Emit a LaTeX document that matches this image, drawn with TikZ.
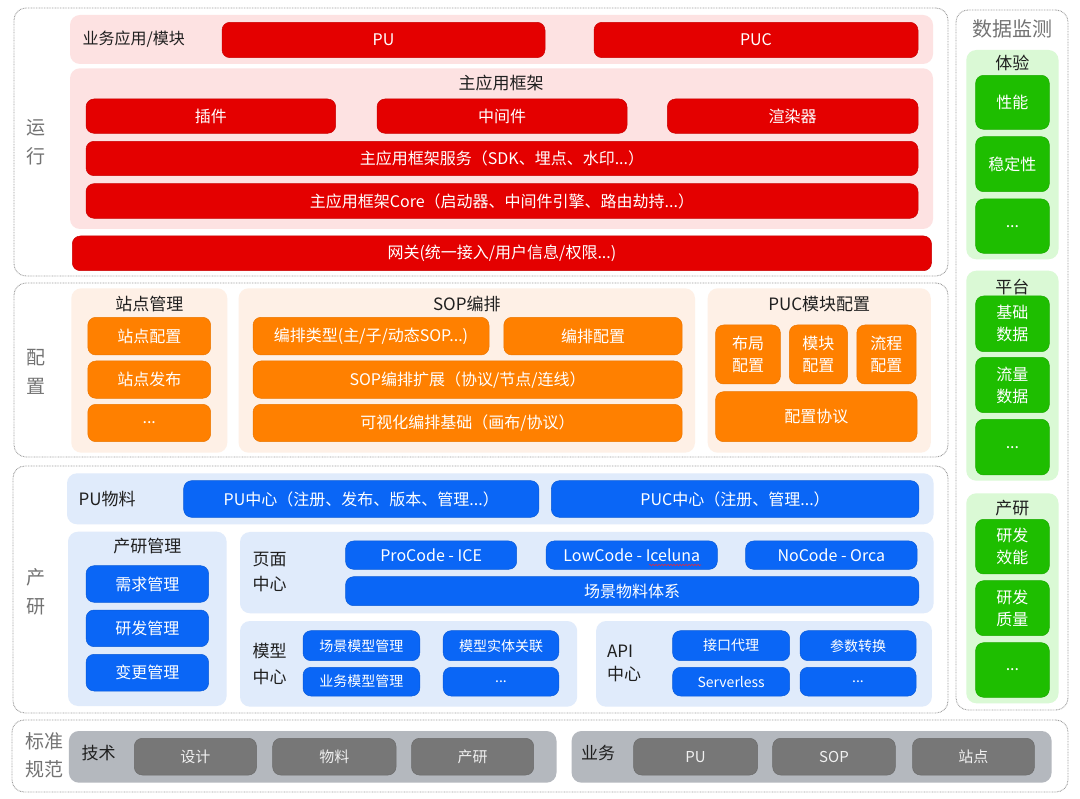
\documentclass[tikz,border=0pt]{standalone}
\usepackage{fontspec}
\usetikzlibrary{decorations.pathmorphing}
\setmainfont{Noto Sans CJK SC}
\definecolor{cred}{RGB}{228,0,0}
\definecolor{cpink}{RGB}{253,226,226}
\definecolor{corg}{RGB}{255,128,0}
\definecolor{clorg}{RGB}{254,240,230}
\definecolor{cblue}{RGB}{10,102,246}
\definecolor{clblue}{RGB}{224,235,251}
\definecolor{cgreen}{RGB}{30,190,0}
\definecolor{clgreen}{RGB}{218,249,213}
\definecolor{cgband}{RGB}{180,184,190}
\definecolor{cgbox}{RGB}{119,119,119}
\definecolor{csquig}{RGB}{230,40,60}
\newcommand\myfs[2]{\fontsize{#1}{#2}\selectfont}
\newcommand\mybox[7]{\node[#1,minimum width={(#5)-(#3)},minimum height={(#6)-(#4)}] (#2) at ({((#3)+(#5))/2},{((#4)+(#6))/2}) {#7};}
\tikzset{
  base/.style={rectangle, inner sep=0pt, outer sep=0pt, align=center},
  dotb/.style={base, draw=black!38, dash pattern=on 0.8pt off 0.8pt, line width=0.9pt, rounded corners=12pt},
  band/.style={base, rounded corners=10pt},
  pinkband/.style={band, fill=cpink},
  orgband/.style={band, fill=clorg},
  blueband/.style={band, fill=clblue},
  greenband/.style={band, fill=clgreen},
  grayband/.style={band, fill=cgband},
  cbox/.style={base, rounded corners=8pt, text=white, font=\myfs{16}{22}, line width=0.5pt},
  redb/.style={cbox, fill=cred, draw=cred!88!black},
  orgb/.style={cbox, fill=corg, draw=corg!92!black},
  blueb/.style={cbox, fill=cblue, draw=cblue!88!black},
  blues/.style={blueb, font=\myfs{14}{20}},
  greenb/.style={cbox, fill=cgreen, draw=cgreen!90!black},
  grayb/.style={cbox, fill=cgbox, draw=cgbox!90!black, text=white!94!black, font=\myfs{15}{20}},
  side/.style={base, text=black!55, font=\myfs{19}{29}},
  ttl/.style={base, text=black!88, font=\myfs{17}{22}},
  lbl/.style={base, text=black!88, font=\myfs{17}{25}, anchor=west, align=left},
  squig/.style={draw=csquig, line width=0.6pt, decorate, decoration={snake, amplitude=0.7pt, segment length=3pt}},
}
\begin{document}
\begin{tikzpicture}[x=1pt,y=-1pt]
\useasboundingbox[fill=white] (0,0) rectangle (1080,799);
% outer dotted frames
\mybox{dotb}{yunxing}{14}{8}{948}{276}{}
\mybox{dotb}{peizhi}{14}{283}{948}{457}{}
\mybox{dotb}{chanyan}{13}{466}{948}{713}{}
\mybox{dotb}{biaozhun}{12}{720}{1068}{792}{}
\mybox{dotb}{jiankong}{956}{10}{1068}{710}{}
% side labels
\node[side] (lyx) at (36,142.5) {运\\行};
\node[side] (lpz) at (36,372) {配\\置};
\node[side] (lcy) at (36,591.7) {产\\研};
\node[side, font=\myfs{19}{27.6}] (lbz) at (44,755.5) {标准\\规范};
\node[side, font=\myfs{20}{26}] (ljk) at (1012.5,29.3) {数据监测};

% ===== 运行 =====
\mybox{pinkband}{b1}{70}{15}{933}{64}{}
\node[lbl, font=\myfs{16}{22}] (t1) at (82.6,39.5) {业务应用/模块};
\mybox{redb}{pu}{222}{22.3}{545}{57.7}{PU}
\mybox{redb}{puc}{594}{22.3}{918}{57.7}{PUC}
\mybox{pinkband}{b2}{70}{68.3}{933}{229}{}
\node[ttl] (t2) at (501,83.3) {主应用框架};
\mybox{redb}{cj}{86}{99}{335.7}{133.3}{插件}
\mybox{redb}{zjj}{377}{99}{627}{133.3}{中间件}
\mybox{redb}{xrq}{667.4}{99}{918}{133.3}{渲染器}
\mybox{redb}{fw}{86}{141.3}{918}{175.7}{主应用框架服务（SDK、埋点、水印...）}
\mybox{redb}{core}{86}{183.7}{918}{218.3}{主应用框架Core（启动器、中间件引擎、路由劫持...）}
\mybox{redb}{wg}{72.3}{236}{931.5}{270.7}{网关(统一接入/用户信息/权限...)}

% ===== 配置 =====
\mybox{orgband}{b3}{71.3}{288.3}{227.3}{452.7}{}
\node[ttl] (t3) at (149.3,304) {站点管理};
\mybox{orgb}{zdpz}{87.8}{317.3}{210.7}{355}{站点配置}
\mybox{orgb}{zdfb}{87.8}{361}{210.7}{398.3}{站点发布}
\mybox{orgb}{zdmore}{87.8}{404.3}{210.7}{441.7}{...}
\mybox{orgband}{b4}{238.6}{288.3}{695}{452.7}{}
\node[ttl] (t4) at (466.8,304) {SOP编排};
\mybox{orgb}{bplx}{253}{317.3}{489}{355}{编排类型(主/子/动态SOP...)}
\mybox{orgb}{bppz}{503.8}{317.3}{682.2}{355}{编排配置}
\mybox{orgb}{sopkz}{253}{361}{682.2}{398.3}{SOP编排扩展（协议/节点/连线）}
\mybox{orgb}{ksh}{253}{404.3}{682.2}{441.7}{可视化编排基础（画布/协议）}
\mybox{orgband}{b5}{707.7}{288.3}{930.8}{452.7}{}
\node[ttl] (t5) at (819.2,304) {PUC模块配置};
\mybox{orgb}{bjpz}{715.6}{325}{780.4}{384}{布局\\配置}
\mybox{orgb}{mkpz}{789.3}{325}{847.5}{384}{模块\\配置}
\mybox{orgb}{lcpz}{856.8}{325}{916}{384}{流程\\配置}
\mybox{orgb}{pzxy}{715.6}{391.7}{917}{441.7}{配置协议}

% ===== 产研 =====
\mybox{blueband}{b6}{67}{473.3}{933.6}{524.3}{}
\node[lbl] (t6) at (78.5,499.3) {PU物料};
\mybox{blueb}{puzx}{183.7}{480.7}{538.8}{517.3}{PU中心（注册、发布、版本、管理...）}
\mybox{blueb}{puczx}{551.4}{480.7}{918.8}{517.3}{PUC中心（注册、管理...）}
\mybox{blueband}{b7}{68}{531.7}{226.6}{706}{}
\node[ttl] (t7) at (147.3,546) {产研管理};
\mybox{blueb}{xqgl}{86.1}{565.7}{208.6}{602.3}{需求管理}
\mybox{blueb}{yfgl}{86.1}{610}{208.6}{646.7}{研发管理}
\mybox{blueb}{bggl}{86.1}{654.3}{208.6}{691}{变更管理}
\mybox{blueband}{b8}{240}{532}{933.6}{613.3}{}
\node[lbl] (t8) at (252.6,572.2) {页面\\中心};
\mybox{blueb}{pro}{345.6}{541}{516.7}{569.3}{ProCode - ICE}
\mybox{blueb}{low}{546.2}{541}{717.3}{569.3}{LowCode - Iceluna}
\mybox{blueb}{no}{745.6}{541}{917}{569.3}{NoCode - Orca}
\mybox{blueb}{cjwl}{345.6}{576.7}{918.8}{605.7}{场景物料体系}
\coordinate (sqa) at (649,565);
\coordinate (sqb) at (701,565);
\draw[squig] (sqa) -- (sqb);
\mybox{blueband}{b9}{240}{621}{577.2}{706.7}{}
\node[lbl, font=\myfs{17}{26.6}] (t9) at (252.6,664) {模型\\中心};
\mybox{blues}{cjmx}{303}{630.7}{419.8}{660.7}{场景模型管理}
\mybox{blues}{mxst}{443.2}{630.7}{558.8}{660.7}{模型实体关联}
\mybox{blues}{ywmx}{303}{667.3}{419.8}{696}{业务模型管理}
\mybox{blues}{mxmore}{443.2}{667.3}{558.8}{696}{...}
\mybox{blueband}{b10}{596.1}{621}{931.9}{706.7}{}
\node[lbl, font=\myfs{17}{23.3}] (t10) at (607,663.3) {API\\中心};
\mybox{blues}{jkdl}{672.6}{630.7}{789.7}{660.7}{接口代理}
\mybox{blues}{cszh}{800}{630.7}{916}{660.7}{参数转换}
\mybox{blues}{svl}{672.6}{667.3}{789.7}{696}{Serverless}
\mybox{blues}{apimore}{800}{667.3}{916}{696}{...}

% ===== 数据监测 =====
\mybox{greenband}{g1}{966.3}{50}{1058.5}{259.3}{}
\node[ttl] (tg1) at (1012.4,63.3) {体验};
\mybox{greenb}{xn}{975.6}{75.3}{1049.3}{129.3}{性能}
\mybox{greenb}{wdx}{975.6}{136.7}{1049.3}{191.7}{稳定性}
\mybox{greenb}{g1more}{975.6}{199}{1049.3}{253.3}{...}
\mybox{greenband}{g2}{966.3}{270.7}{1058.5}{480.7}{}
\node[ttl] (tg2) at (1012.4,286.7) {平台};
\mybox{greenb}{jcsj}{975.6}{296}{1049.3}{351.7}{基础\\数据}
\mybox{greenb}{llsj}{975.6}{357.3}{1049.3}{412.7}{流量\\数据}
\mybox{greenb}{g2more}{975.6}{419.3}{1049.3}{475}{...}
\mybox{greenband}{g3}{966.3}{493.3}{1058.5}{703.3}{}
\node[ttl] (tg3) at (1012.4,508.3) {产研};
\mybox{greenb}{yfxn}{975.6}{519.3}{1049.3}{574}{研发\\效能}
\mybox{greenb}{yfzl}{975.6}{580.7}{1049.3}{635.7}{研发\\质量}
\mybox{greenb}{g3more}{975.6}{642.7}{1049.3}{697.3}{...}

% ===== 标准规范 =====
\mybox{grayband}{b11}{68.9}{731}{556.5}{782.7}{}
\node[lbl] (t11) at (81.6,753.3) {技术};
\mybox{grayb}{sj}{134.3}{738.3}{256.5}{775}{设计}
\mybox{grayb}{wl}{272.7}{738.3}{396}{775}{物料}
\mybox{grayb}{cy}{411.5}{738.3}{533.7}{775}{产研}
\mybox{grayband}{b12}{571.6}{731}{1051.6}{782.7}{}
\node[lbl] (t12) at (581,753.3) {业务};
\mybox{grayb}{bpu}{633.6}{738.3}{757.6}{775}{PU}
\mybox{grayb}{bsop}{772.7}{738.3}{895.3}{775}{SOP}
\mybox{grayb}{bzd}{912.5}{738.3}{1034.4}{775}{站点}
\end{tikzpicture}
\end{document}
